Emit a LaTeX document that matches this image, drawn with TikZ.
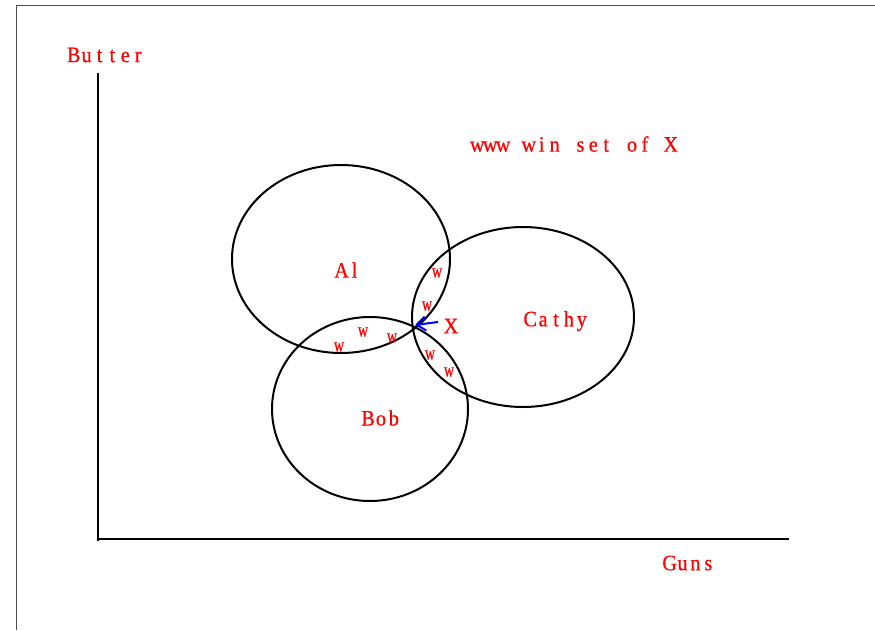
\documentclass[tikz,border=0pt]{standalone}
\usepackage{fontspec}
\setmainfont{Liberation Serif}
\newfontfamily\condfont{Liberation Serif}[FakeStretch=0.92,FakeBold=0.6]
\newfontfamily\wfont{Liberation Serif}[FakeStretch=0.7,FakeBold=0.6]
\usetikzlibrary{shapes.geometric,arrows.meta}
\def\monoloop#1{\ifx#1\relax\else\makebox[12.9pt]{#1}\expandafter\monoloop\fi}
\newcommand\monotxt[1]{\monoloop#1\relax}
\begin{document}
\begin{tikzpicture}[x=1pt,y=-1pt,
  lbl/.style={text=red,font=\condfont\fontsize{22}{23}\selectfont,inner sep=0pt},
  wl/.style={text=red,font=\wfont\fontsize{20}{21}\selectfont,inner sep=0pt},
  circ/.style={draw,ellipse,line width=2pt,inner sep=0pt},
  axis/.style={line width=2pt}]
\useasboundingbox (0,0) rectangle (875,630);
\draw[black!70,line width=1pt] (16,630) -- (16,5) -- (875,5);
% axes
\coordinate (o) at (98,539);
\coordinate (ytop) at (98,73);
\coordinate (xend) at (789,539);
\draw[axis] (ytop) -- (98,541) ;
\draw[axis] (97,539) -- (xend);
% ellipses
\node[circ,minimum width=218pt,minimum height=188pt] (al) at (341,259) {};
\node[circ,minimum width=222pt,minimum height=180pt] (cathy) at (523,317) {};
\node[circ,minimum width=196pt,minimum height=184pt] (bob) at (370,409) {};
% labels
\node[lbl] (butter) at (106,55) {\monotxt{Butter}};
\node[lbl] (guns) at (689,563) {\monotxt{Guns}};
\node[lbl] (title) at (574,144) {\monotxt{www~win~set~of~X}};
\node[lbl] (alt) at (348,270) {\monotxt{Al}};
\node[lbl] (cathyt) at (556,321) {\monotxt{Cathy}};
\node[lbl] (bobt) at (381,418) {\monotxt{Bob}};
\node[lbl] (xt) at (451,326) {X};
\node[wl] (w1) at (437,273) {w};
\node[wl] (w2) at (427,306) {w};
\node[wl] (w3) at (339,347) {w};
\node[wl] (w4) at (363,332) {w};
\node[wl] (w5) at (392,338) {w};
\node[wl] (w6) at (430,355) {w};
\node[wl] (w7) at (449,372) {w};
% arrow to X
\coordinate (xp) at (415,325);
\coordinate (as) at (438,322);
\draw[blue,line width=2pt,-{Straight Barb[length=9pt,width=14pt]}] (as) -- (xp);
\end{tikzpicture}
\end{document}
